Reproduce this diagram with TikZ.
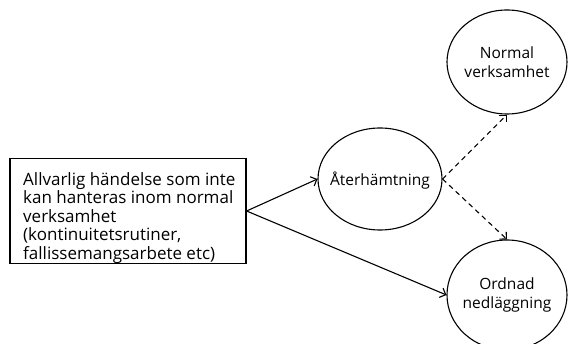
\documentclass[tikz,border=0pt]{standalone}
\usepackage{fontspec}
\setmainfont{Open Sans}
\usetikzlibrary{shapes.geometric,arrows.meta}
\begin{document}
\begin{tikzpicture}[x=1pt,y=-1pt,
  statefont/.style={font=\fontsize{15.5}{19}\selectfont},
  boxfont/.style={font=\fontsize{17}{18.6}\selectfont},
  box/.style={draw,line width=1.2pt,minimum width=236pt,minimum height=105pt,inner sep=0pt},
  state/.style={draw,ellipse,line width=1.1pt,inner sep=0pt},
  statetext/.style={statefont,align=center,inner sep=0pt},
  flow/.style={line width=1.1pt,-{Straight Barb[length=5pt,width=10pt]}},
  maybe/.style={flow,dashed,dash pattern=on 5pt off 4pt}]
  \useasboundingbox (0,0) rectangle (568,344);
  \node[box] (event) at (128,211) {};
  \node[boxfont,anchor=north west,align=left,inner sep=0pt] (eventtext) at (23,172)
    {Allvarlig händelse som inte\\kan hanteras inom normal\\verksamhet\\(kontinuitetsrutiner,\\fallissemangsarbete etc)};
  \node[state,minimum width=124pt,minimum height=102pt] (rec) at (380,179) {};
  \node[statetext] (rectext) at (380,181) {Återhämtning};
  \node[state,minimum width=120pt,minimum height=104pt] (normal) at (507,62) {};
  \node[statetext] (normaltext) at (normal.center) {Normal\\verksamhet};
  \node[state,minimum width=120pt,minimum height=110pt] (close) at (507,295) {};
  \node[statetext] (closetext) at (close.center) {Ordnad\\nedläggning};
  \draw[flow] (event.east) -- (rec.west);
  \draw[flow] (event.east) -- (close.west);
  \draw[maybe] (rec.east) -- (normal.south);
  \draw[maybe] (rec.east) -- (close.north);
\end{tikzpicture}
\end{document}
